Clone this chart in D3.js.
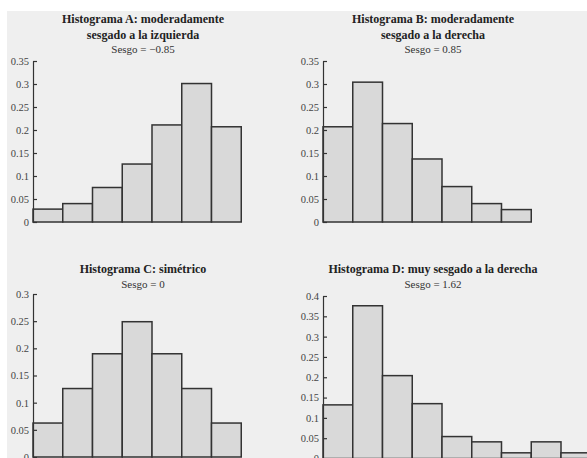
<!DOCTYPE html>
<html>
<head>
<meta charset="utf-8">
<script src="https://cdn.jsdelivr.net/npm/d3@7"></script>
<style>
  body { margin: 0; background: #fff; }
  svg { display: block; }
</style>
</head>
<body>
<svg id="chart"></svg>
<script>
// bin heights (relative frequency)
const valuesA = [0.028, 0.040, 0.075, 0.126, 0.211, 0.301, 0.207];
const valuesB = [0.207, 0.304, 0.214, 0.137, 0.077, 0.040, 0.027];
const valuesC = [0.0625, 0.126, 0.190, 0.249, 0.190, 0.126, 0.0625];
const valuesD = [0.132, 0.376, 0.204, 0.135, 0.054, 0.041, 0.014, 0.041, 0.014];

const ticksA = [0, 0.05, 0.1, 0.15, 0.2, 0.25, 0.3, 0.35];
const ticksB = [0, 0.05, 0.1, 0.15, 0.2, 0.25, 0.3, 0.35];
const ticksC = [0, 0.05, 0.1, 0.15, 0.2, 0.25, 0.3];
const ticksD = [0, 0.05, 0.1, 0.15, 0.2, 0.25, 0.3, 0.35, 0.4];

const titlesA = ['Histograma A: moderadamente', 'sesgado a la izquierda'];
const titlesB = ['Histograma B: moderadamente', 'sesgado a la derecha'];
const titlesC = ['Histograma C: simétrico'];
const titlesD = ['Histograma D: muy sesgado a la derecha'];

const sesgoA = 'Sesgo = \u22120.85';
const sesgoB = 'Sesgo = 0.85';
const sesgoC = 'Sesgo = 0';
const sesgoD = 'Sesgo = 1.62';

const width = 587;
const height = 458;
const binW = 29.75;
const serif = 'Liberation Serif';

const svg = d3.select('#chart')
    .attr('width', width)
    .attr('height', height);

// gray panel under the white strip
svg.append('rect')
    .attr('x', 7)
    .attr('y', 11)
    .attr('width', width - 7)
    .attr('height', height - 11)
    .attr('fill', '#efefef');

const panels = [
    { values: valuesA, ticks: ticksA, titles: titlesA, sesgo: sesgoA, x0: 33, yTop: 61, yZero: 222, titleY: 23, sesgoY: 53, cx: 143 },
    { values: valuesB, ticks: ticksB, titles: titlesB, sesgo: sesgoB, x0: 323, yTop: 61, yZero: 222, titleY: 23, sesgoY: 53, cx: 433 },
    { values: valuesC, ticks: ticksC, titles: titlesC, sesgo: sesgoC, x0: 33, yTop: 294, yZero: 457, titleY: 273, sesgoY: 288, cx: 143 },
    { values: valuesD, ticks: ticksD, titles: titlesD, sesgo: sesgoD, x0: 323, yTop: 296, yZero: 458.5, titleY: 273, sesgoY: 288, cx: 433 }
];

panels.forEach(p => {
    const g = svg.append('g');
    const n = p.values.length;

    const x = d3.scaleLinear()
        .domain([0, n])
        .range([p.x0, p.x0 + n * binW]);

    const y = d3.scaleLinear()
        .domain([0, d3.max(p.ticks)])
        .range([p.yZero, p.yTop]);

    // titles
    g.append('g')
        .selectAll('text')
        .data(p.titles)
        .enter()
        .append('text')
            .attr('x', p.cx)
            .attr('y', (d, i) => p.titleY + i * 16)
            .attr('text-anchor', 'middle')
            .style('font-family', serif)
            .style('font-weight', 'bold')
            .style('font-size', '12px')
            .attr('fill', '#222')
            .text(d => d);

    g.append('text')
        .attr('x', p.cx)
        .attr('y', p.sesgoY)
        .attr('text-anchor', 'middle')
        .style('font-family', serif)
        .style('font-size', '11px')
        .attr('fill', '#333')
        .text(p.sesgo);

    // bars
    g.append('g')
        .selectAll('rect')
        .data(p.values)
        .enter()
        .append('rect')
            .attr('x', (d, i) => x(i))
            .attr('y', d => y(d))
            .attr('width', (d, i) => x(i + 1) - x(i))
            .attr('height', d => y(0) - y(d))
            .attr('fill', '#d9d9d9')
            .attr('stroke', '#333')
            .attr('stroke-width', 1.5);

    // y axis with inward ticks
    const axis = g.append('g')
        .attr('transform', `translate(${p.x0},0)`)
        .call(d3.axisLeft(y)
            .tickValues(p.ticks)
            .tickFormat(d => d === 0 ? '0' : String(+d.toFixed(2)))
            .tickSizeInner(-4)
            .tickSizeOuter(0)
            .tickPadding(4));

    axis.select('.domain').attr('stroke', '#333').attr('stroke-width', 1.2);
    axis.selectAll('.tick line').attr('stroke', '#333').attr('stroke-width', 1.2);
    axis.selectAll('.tick text')
        .style('font-family', serif)
        .style('font-size', '10.5px')
        .attr('fill', '#444');
});
</script>
</body>
</html>
